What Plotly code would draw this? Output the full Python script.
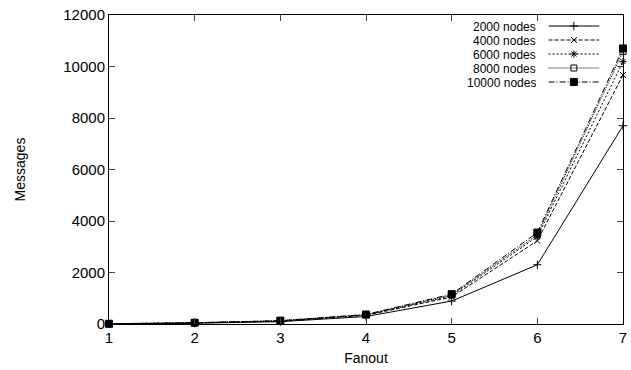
import plotly.graph_objects as go

fanout = [1, 2, 3, 4, 5, 6, 7]
n2000 = [5, 30, 90, 290, 890, 2300, 7700]
n4000 = [8, 40, 110, 335, 1050, 3230, 9670]
n6000 = [9, 45, 120, 350, 1100, 3390, 10190]
n8000 = [10, 48, 125, 360, 1130, 3460, 10580]
n10000 = [10, 50, 130, 370, 1160, 3550, 10700]
yticks = [0, 2000, 4000, 6000, 8000, 10000, 12000]
ytick_text = ["0", "2000", "4000", "6000", "8000", "10000", "12000"]
labels = ["2000 nodes", "4000 nodes", "6000 nodes", "8000 nodes", "10000 nodes"]
series = [n2000, n4000, n6000, n8000, n10000]
dashes = ["solid", "4px,2px", "2px,2px", "1px,1px", "6px,2px,1px,2px"]
symbols = ["cross-thin", "x-thin", "asterisk", "square-open", "square"]
msizes = [6, 6, 6, 6, 7]

FONT = "Liberation Sans, Arial, sans-serif"
fig = go.Figure()
for lab, ys, d, s, ms in zip(labels, series, dashes, symbols, msizes):
    fig.add_trace(go.Scatter(
        x=fanout, y=ys, mode="lines+markers", name=lab, cliponaxis=False,
        line=dict(color="black", width=1, dash=d),
        marker=dict(symbol=s, size=ms, color="black", line=dict(color="black", width=1)),
        showlegend=False))

# gnuplot-style legend (text right-aligned, sample to the right)
# overlay axes in plot-area pixel units
leg_y = [26, 40, 54, 68, 82]
for lab, ly, d, s, ms in zip(labels, leg_y, dashes, symbols, msizes):
    fig.add_trace(go.Scatter(
        x=[552, 603], y=[ly, ly], xaxis="x2", yaxis="y2", mode="lines",
        line=dict(color="black", width=1, dash=d), showlegend=False, hoverinfo="skip"))
    fig.add_trace(go.Scatter(
        x=[577.5], y=[ly], xaxis="x2", yaxis="y2", mode="markers",
        marker=dict(symbol=s, size=ms, color="black", line=dict(color="black", width=1)),
        showlegend=False, hoverinfo="skip"))
    fig.add_annotation(x=541, y=ly, xref="x2", yref="y2", text=lab, showarrow=False,
                       xanchor="right", yanchor="middle", height=13,
                       font=dict(family=FONT, size=12, color="black"))

fig.update_layout(
    width=631, height=370,
    margin=dict(l=109, r=4, t=15, b=46),
    paper_bgcolor="white", plot_bgcolor="white",
    font=dict(family=FONT, size=15, color="black"),
    xaxis=dict(range=[1, 7], tickvals=fanout, ticks="inside", ticklen=6,
               ticklabeloverflow="allow",
               showgrid=False, zeroline=False, showline=True, linecolor="black",
               linewidth=1, mirror="ticks",
               title=dict(text="Fanout", font=dict(size=14), standoff=8)),
    yaxis=dict(range=[0, 12000], tickvals=yticks, ticktext=ytick_text,
               ticks="inside", ticklen=6, showgrid=False, zeroline=False,
               showline=True, linecolor="black", linewidth=1, mirror="ticks",
               title=dict(text="Messages", font=dict(size=14), standoff=34)),
    xaxis2=dict(overlaying="x", range=[109, 627], visible=False, fixedrange=True),
    yaxis2=dict(overlaying="y", range=[324, 15], visible=False, fixedrange=True),
)
fig.write_html("out.html")
